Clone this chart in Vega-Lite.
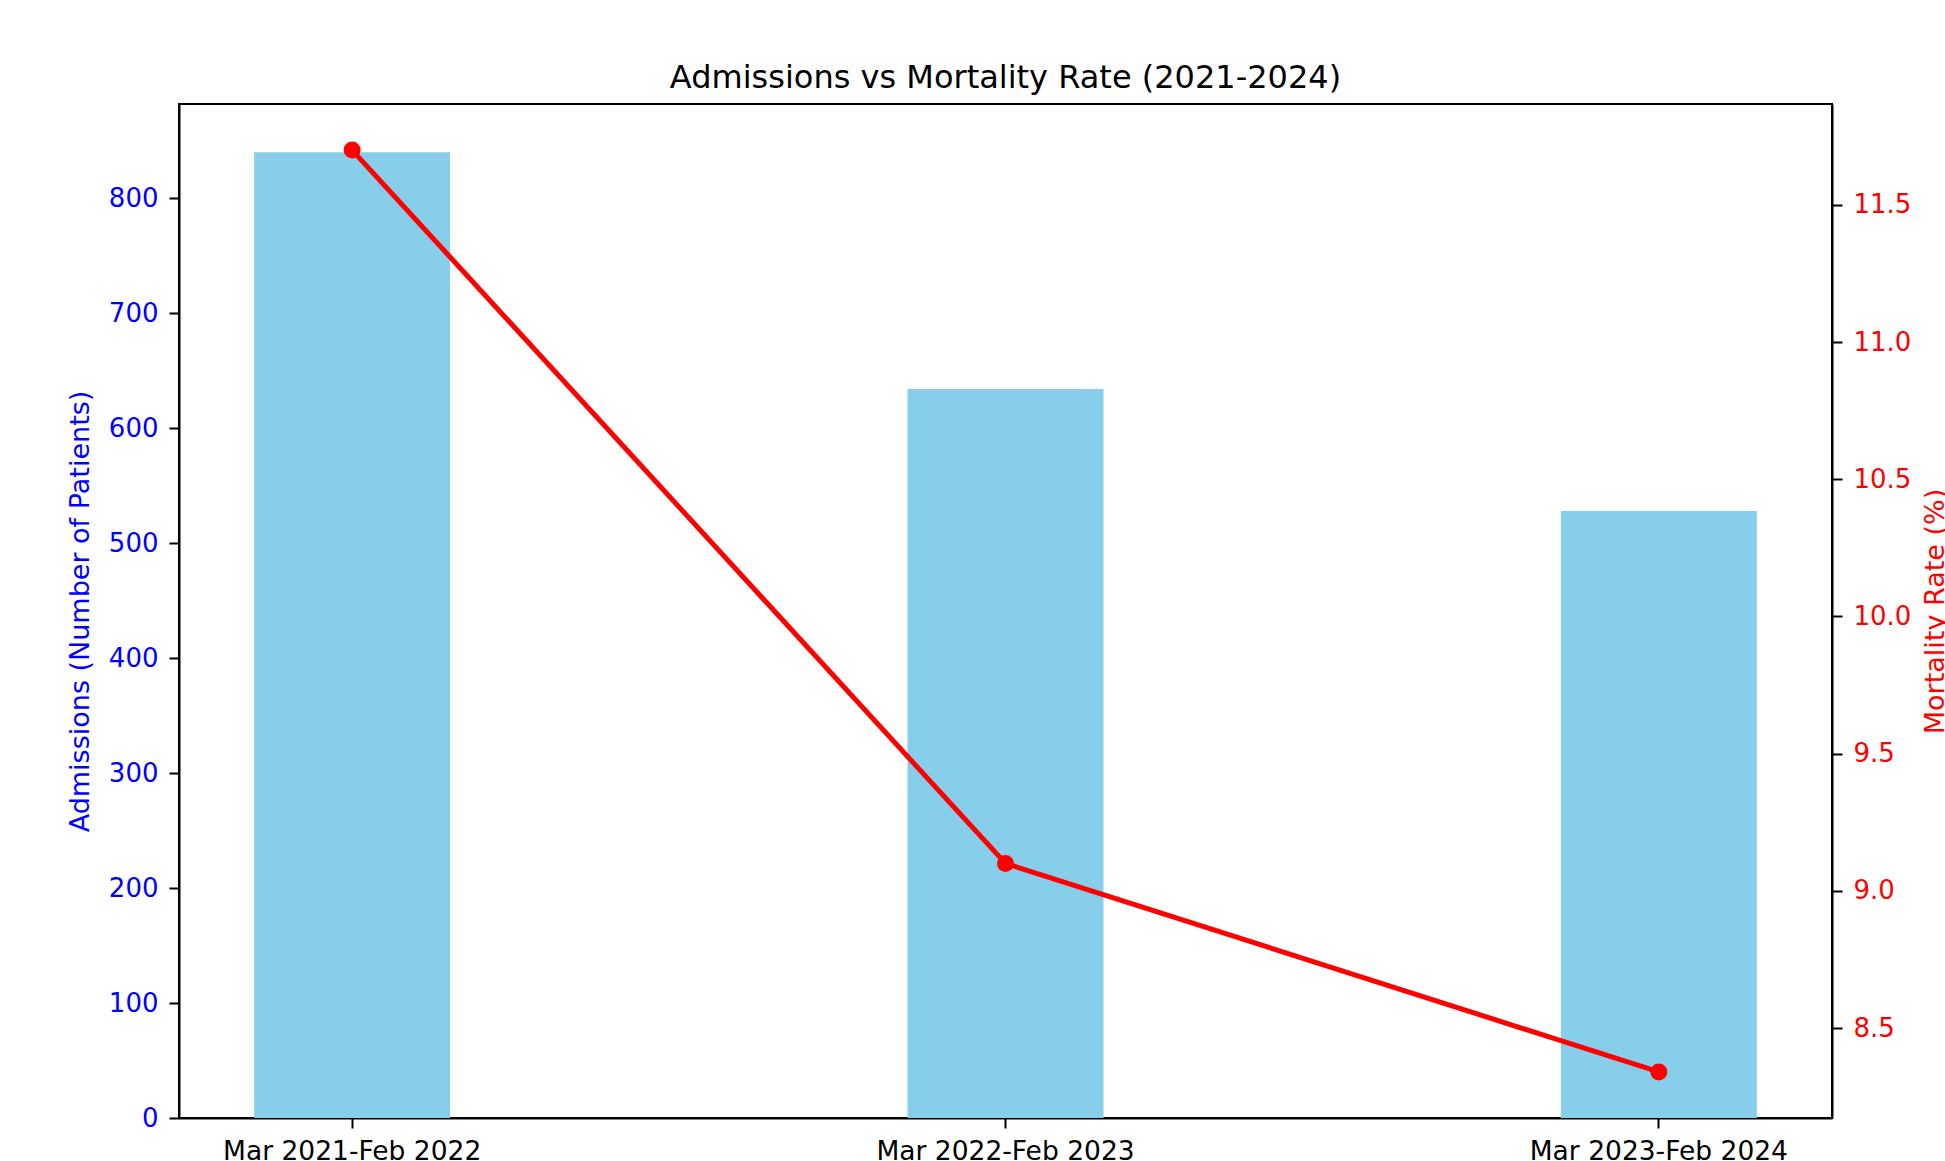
{
  "$schema": "https://vega.github.io/schema/vega-lite/v6.json",
  "width": 1653,
  "height": 1014,
  "autosize": {"type": "none"},
  "padding": {"left": 179, "top": 104, "right": 113, "bottom": 43},
  "background": "white",
  "title": {
    "text": "Admissions vs Mortality Rate (2021-2024)",
    "font": "DejaVu Sans",
    "fontSize": 32,
    "fontWeight": "normal",
    "color": "black",
    "anchor": "middle",
    "offset": 9
  },
  "data": {
    "values": [
      {"period": "Mar 2021-Feb 2022", "admissions": 840, "mortality": 11.7},
      {"period": "Mar 2022-Feb 2023", "admissions": 634, "mortality": 9.1},
      {"period": "Mar 2023-Feb 2024", "admissions": 528, "mortality": 8.34}
    ]
  },
  "config": {
    "view": {"stroke": "black", "strokeWidth": 2},
    "axis": {
      "labelFont": "DejaVu Sans",
      "titleFont": "DejaVu Sans",
      "labelFontSize": 26,
      "titleFontSize": 27,
      "titleFontWeight": "normal",
      "tickSize": 10,
      "tickWidth": 2,
      "tickColor": "black",
      "domainColor": "black",
      "domainWidth": 2,
      "grid": false,
      "labelPadding": 11,
      "labelLimit": 0,
      "zindex": 1
    }
  },
  "encoding": {
    "x": {
      "field": "period",
      "type": "nominal",
      "sort": null,
      "scale": {"paddingInner": 0.7, "paddingOuter": 0.115},
      "axis": {"title": null, "labelAngle": 0, "labelColor": "black", "labelPadding": 10, "labelFontSize": 26.5}
    }
  },
  "layer": [
    {
      "mark": {"type": "bar", "color": "#87CEEB"},
      "encoding": {
        "y": {
          "field": "admissions",
          "type": "quantitative",
          "scale": {"domain": [0, 882], "nice": false},
          "axis": {
            "orient": "left",
            "values": [0, 100, 200, 300, 400, 500, 600, 700, 800],
            "title": "Admissions (Number of Patients)",
            "titleColor": "blue",
            "labelColor": "blue",
            "titlePadding": 14
          }
        }
      }
    },
    {
      "mark": {
        "type": "line",
        "color": "red",
        "strokeWidth": 5,
        "point": {"filled": true, "size": 290, "color": "red"}
      },
      "encoding": {
        "y": {
          "field": "mortality",
          "type": "quantitative",
          "scale": {"domain": [8.172, 11.868], "nice": false, "zero": false},
          "axis": {
            "orient": "right",
            "values": [8.5, 9.0, 9.5, 10.0, 10.5, 11.0, 11.5],
            "format": ".1f",
            "title": "Mortality Rate (%)",
            "titleColor": "red",
            "labelColor": "red",
            "titleAngle": 270,
            "titleBaseline": "top",
            "titlePadding": 12
          }
        }
      }
    }
  ],
  "resolve": {"scale": {"y": "independent"}}
}
